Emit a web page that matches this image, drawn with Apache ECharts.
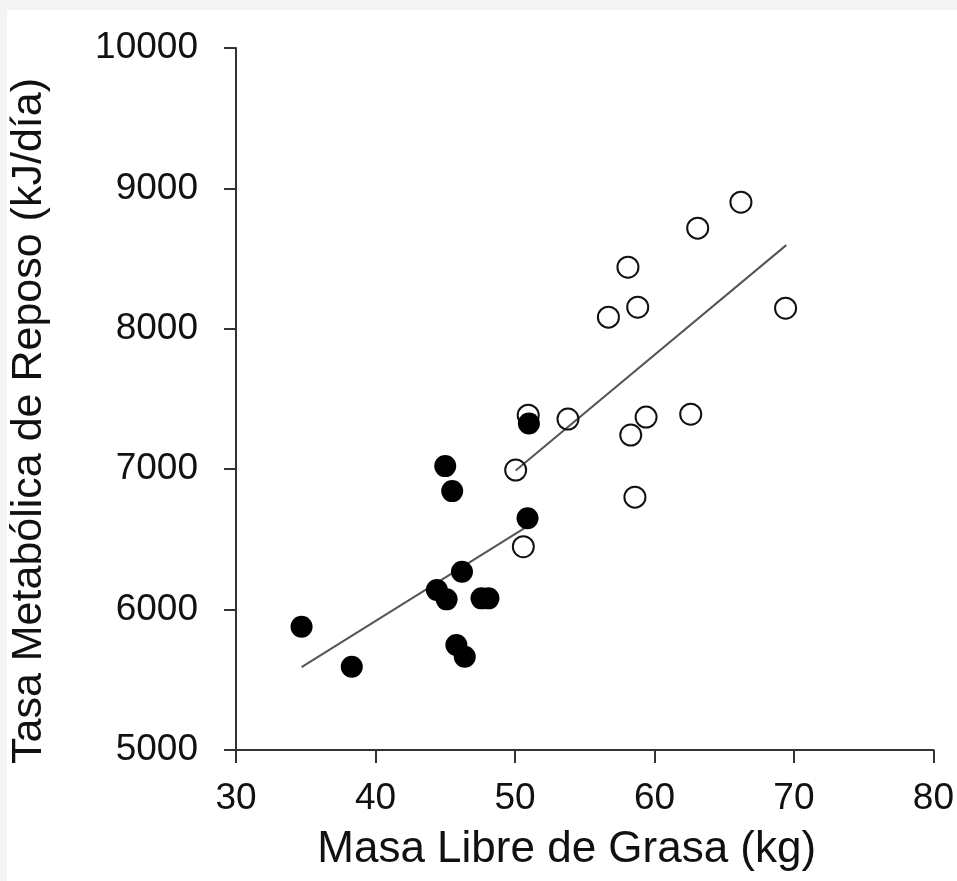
<!DOCTYPE html>
<html>
<head>
<meta charset="utf-8">
<script src="https://cdn.jsdelivr.net/npm/echarts@6/dist/echarts.min.js"></script>
<style>
  html, body { margin: 0; padding: 0; background: #f4f4f4; }
  #chart { width: 957px; height: 881px; }
</style>
</head>
<body>
<div id="chart"></div>
<script>
  // puntos rellenos
  var filledX = [34.7, 38.3, 45.0, 45.5, 44.4, 45.1, 46.2, 47.6, 48.1, 45.8, 46.4, 50.9, 51.0];
  var filledY = [5878, 5593, 7022, 6844, 6139, 6073, 6270, 6080, 6080, 5748, 5664, 6650, 7326];
  // puntos abiertos
  var openX = [50.95, 50.05, 50.6, 53.8, 56.7, 58.1, 58.8, 59.4, 58.3, 58.6, 62.6, 63.1, 66.2, 69.4];
  var openY = [7385, 6994, 6448, 7357, 8083, 8439, 8154, 7371, 7243, 6801, 7392, 8717, 8902, 8147];
  // rectas de regresion (extremos)
  var line1X = [34.7, 51.0];
  var line1Y = [5590, 6600];
  var line2X = [50.05, 69.45];
  var line2Y = [6990, 8596];

  var xTicks = [30, 80, 10];
  var yTicks = [5000, 10000, 1000];

  function pairs(xs, ys) {
    var out = [];
    for (var i = 0; i < xs.length; i++) out.push([xs[i], ys[i]]);
    return out;
  }

  var font = "'Liberation Sans', Arial, sans-serif";
  var chart = echarts.init(document.getElementById('chart'));

  var option = {
    animation: false,
    backgroundColor: '#f4f4f4',
    graphic: [{
      type: 'rect',
      z: -10,
      shape: { x: 7, y: 10, width: 950, height: 871 },
      style: { fill: '#ffffff' }
    }],
    grid: { left: 236, right: 22, top: 48, bottom: 131 },
    xAxis: {
      type: 'value',
      min: xTicks[0],
      max: xTicks[1],
      interval: xTicks[2],
      name: 'Masa Libre de Grasa (kg)',
      nameLocation: 'middle',
      nameGap: 78,
      nameTextStyle: { fontFamily: font, fontSize: 44, color: '#111', padding: [0, 36, 0, 0] },
      axisLine: { show: true, lineStyle: { color: '#333', width: 2 } },
      axisTick: { show: true, length: 13, lineStyle: { color: '#333', width: 2 } },
      axisLabel: { fontFamily: font, fontSize: 37, color: '#111', margin: 30,
        formatter: function (v) { return String(v); } },
      splitLine: { show: false }
    },
    yAxis: {
      type: 'value',
      min: yTicks[0],
      max: yTicks[1],
      interval: yTicks[2],
      name: 'Tasa Metabólica de Reposo (kJ/día)',
      nameLocation: 'middle',
      nameGap: 185,
      nameTextStyle: { fontFamily: font, fontSize: 43, color: '#111', padding: [0, 44, 0, 0] },
      axisLine: { show: true, lineStyle: { color: '#333', width: 2 } },
      axisTick: { show: true, length: 12, lineStyle: { color: '#333', width: 2 } },
      axisLabel: { fontFamily: font, fontSize: 37, color: '#111', margin: 38,
        formatter: function (v) { return String(v); } },
      splitLine: { show: false }
    },
    series: [
      {
        type: 'line',
        data: pairs(line1X, line1Y),
        symbol: 'none',
        z: 1,
        lineStyle: { color: '#555', width: 2 }
      },
      {
        type: 'line',
        data: pairs(line2X, line2Y),
        symbol: 'none',
        z: 1,
        lineStyle: { color: '#555', width: 2 }
      },
      {
        type: 'scatter',
        data: pairs(openX, openY),
        symbol: 'circle',
        symbolSize: 21,
        z: 3,
        itemStyle: { color: 'rgba(0,0,0,0)', borderColor: '#111', borderWidth: 2, opacity: 1 }
      },
      {
        type: 'scatter',
        data: pairs(filledX, filledY),
        symbol: 'circle',
        symbolSize: 22,
        z: 4,
        itemStyle: { color: '#000', opacity: 1 }
      }
    ]
  };

  chart.setOption(option);
</script>
</body>
</html>
